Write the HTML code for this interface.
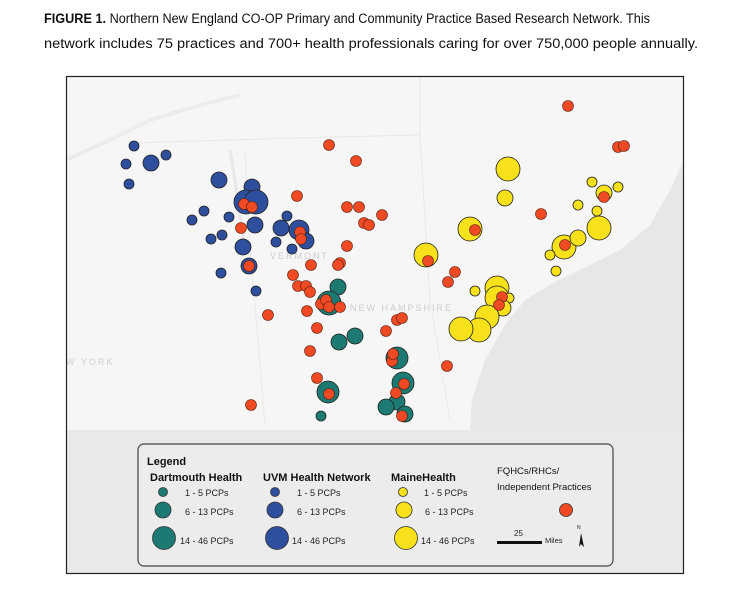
<!DOCTYPE html>
<html><head><meta charset="utf-8"><style>
body{margin:0;background:#fff;width:742px;height:594px;overflow:hidden}
svg{display:block;font-family:"Liberation Sans",Arial,sans-serif}
</style></head><body>
<svg width="742" height="594" viewBox="0 0 742 594">
<text x="44" y="23" font-size="13.5" fill="#111" textLength="606" lengthAdjust="spacingAndGlyphs"><tspan font-weight="bold">FIGURE 1.</tspan> Northern New England CO-OP Primary and Community Practice Based Research Network. This</text>
<text x="44" y="48" font-size="13.5" fill="#111" textLength="654" lengthAdjust="spacingAndGlyphs">network includes 75 practices and 700+ health professionals caring for over 750,000 people annually.</text>
<rect x="66" y="76" width="618" height="498" fill="#e9e9ea"/>
<rect x="66" y="76" width="618" height="354" fill="#f6f6f6"/>
<path d="M684 160 L670 190 L650 225 L620 250 L590 265 L555 282 L525 300 L505 325 L485 360 L472 400 L470 430 L684 430Z" fill="#e7e7e8"/>
<path d="M66 160 L110 140 L150 120 L200 105 L240 95" stroke="#ececec" stroke-width="4" fill="none"/>
<path d="M130 143 L330 137 L420 135 L420 76" stroke="#e8e8e8" stroke-width="1" fill="none"/>
<path d="M420 135 L430 300 L450 420" stroke="#e9e9e9" stroke-width="1" fill="none"/>
<path d="M245 150 L250 250 L258 340 L265 425" stroke="#e9e9e9" stroke-width="1" fill="none"/>
<path d="M230 150 L238 200 L245 250" stroke="#e8e8e8" stroke-width="3" fill="none"/>
<text x="270" y="259" font-size="9" fill="#cdcdcd" letter-spacing="2">VERMONT</text>
<text x="350" y="311" font-size="9" fill="#cdcdcd" letter-spacing="2">NEW HAMPSHIRE</text>
<text x="66" y="365" font-size="9" fill="#cdcdcd" letter-spacing="2">W YORK</text>
<g stroke="#222" stroke-width="0.8" fill="#2e4f9e">
<circle cx="134" cy="146" r="5"/><circle cx="151" cy="163" r="8"/><circle cx="166" cy="155" r="5"/><circle cx="126" cy="164" r="5"/><circle cx="129" cy="184" r="5"/><circle cx="219" cy="180" r="8"/><circle cx="252" cy="187" r="8"/><circle cx="246" cy="202" r="12"/><circle cx="256" cy="202" r="12"/><circle cx="255" cy="225" r="8"/><circle cx="204" cy="211" r="5"/><circle cx="192" cy="220" r="5"/><circle cx="229" cy="217" r="5"/><circle cx="211" cy="239" r="5"/><circle cx="222" cy="235" r="5"/><circle cx="243" cy="247" r="8"/><circle cx="249" cy="266" r="8"/><circle cx="221" cy="273" r="5"/><circle cx="256" cy="291" r="5"/><circle cx="287" cy="216" r="5"/><circle cx="281" cy="228" r="8"/><circle cx="299" cy="230" r="10"/><circle cx="306" cy="241" r="8"/><circle cx="276" cy="242" r="5"/><circle cx="292" cy="249" r="5"/>
</g>
<g stroke="#222" stroke-width="0.8" fill="#1c7a72">
<circle cx="338" cy="287" r="8"/><circle cx="329" cy="303" r="12"/><circle cx="339" cy="342" r="8"/><circle cx="355" cy="336" r="8"/><circle cx="397" cy="358" r="11"/><circle cx="403" cy="383" r="11"/><circle cx="397" cy="402" r="8"/><circle cx="386" cy="407" r="8"/><circle cx="405" cy="414" r="8"/><circle cx="328" cy="392" r="11"/><circle cx="321" cy="416" r="5"/>
</g>
<g stroke="#222" stroke-width="0.8" fill="#f7e11a">
<circle cx="508" cy="169" r="12"/><circle cx="505" cy="198" r="8"/><circle cx="592" cy="182" r="5"/><circle cx="618" cy="187" r="5"/><circle cx="604" cy="193" r="8"/><circle cx="578" cy="205" r="5"/><circle cx="597" cy="211" r="5"/><circle cx="599" cy="228" r="12"/><circle cx="470" cy="229" r="12"/><circle cx="426" cy="255" r="12"/><circle cx="564" cy="247" r="12"/><circle cx="578" cy="238" r="8"/><circle cx="550" cy="255" r="5"/><circle cx="556" cy="271" r="5"/><circle cx="475" cy="291" r="5"/><circle cx="497" cy="288" r="12"/><circle cx="497" cy="298" r="12"/><circle cx="509" cy="298" r="5"/><circle cx="503" cy="308" r="8"/><circle cx="487" cy="317" r="12"/><circle cx="479" cy="330" r="12"/><circle cx="461" cy="329" r="12"/>
</g>
<g stroke="#5a2010" stroke-width="0.6" fill="#f04a24">
<circle cx="329" cy="145" r="5.5"/><circle cx="356" cy="161" r="5.5"/><circle cx="568" cy="106" r="5.5"/><circle cx="618" cy="147" r="5.5"/><circle cx="624" cy="146" r="5.5"/><circle cx="297" cy="196" r="5.5"/><circle cx="347" cy="207" r="5.5"/><circle cx="359" cy="207" r="5.5"/><circle cx="382" cy="215" r="5.5"/><circle cx="364" cy="223" r="5.5"/><circle cx="369" cy="225" r="5.5"/><circle cx="244" cy="204" r="5.5"/><circle cx="252" cy="207" r="5.5"/><circle cx="241" cy="228" r="5.5"/><circle cx="300" cy="232" r="5.5"/><circle cx="301" cy="239" r="5.5"/><circle cx="347" cy="246" r="5.5"/><circle cx="249" cy="266" r="5.5"/><circle cx="311" cy="265" r="5.5"/><circle cx="340" cy="263" r="5.5"/><circle cx="338" cy="265" r="5.5"/><circle cx="293" cy="275" r="5.5"/><circle cx="298" cy="286" r="5.5"/><circle cx="306" cy="286" r="5.5"/><circle cx="310" cy="292" r="5.5"/><circle cx="321" cy="304" r="5.5"/><circle cx="326" cy="300" r="5.5"/><circle cx="329" cy="307" r="5.5"/><circle cx="340" cy="307" r="5.5"/><circle cx="307" cy="311" r="5.5"/><circle cx="268" cy="315" r="5.5"/><circle cx="317" cy="328" r="5.5"/><circle cx="310" cy="351" r="5.5"/><circle cx="386" cy="331" r="5.5"/><circle cx="397" cy="320" r="5.5"/><circle cx="402" cy="318" r="5.5"/><circle cx="392" cy="361" r="5.5"/><circle cx="393" cy="354" r="5.5"/><circle cx="404" cy="384" r="5.5"/><circle cx="396" cy="393" r="5.5"/><circle cx="402" cy="416" r="5.5"/><circle cx="329" cy="394" r="5.5"/><circle cx="317" cy="378" r="5.5"/><circle cx="251" cy="405" r="5.5"/><circle cx="447" cy="366" r="5.5"/><circle cx="428" cy="261" r="5.5"/><circle cx="475" cy="230" r="5.5"/><circle cx="455" cy="272" r="5.5"/><circle cx="448" cy="282" r="5.5"/><circle cx="541" cy="214" r="5.5"/><circle cx="604" cy="197" r="5.5"/><circle cx="565" cy="245" r="5.5"/><circle cx="502" cy="297" r="5.5"/><circle cx="499" cy="305" r="5.5"/>
</g>
<rect x="66.5" y="76.5" width="617" height="497" fill="none" stroke="#222" stroke-width="1.2"/>
<rect x="138" y="444" width="475" height="122" rx="6" fill="#ececed" stroke="#444" stroke-width="1.2"/>
<g font-weight="bold" fill="#111">
<text x="147" y="465" font-size="11">Legend</text>
<text x="150" y="481" font-size="11">Dartmouth Health</text>
<text x="263" y="481" font-size="11">UVM Health Network</text>
<text x="391" y="481" font-size="11">MaineHealth</text>
</g>
<text x="497" y="474" font-size="9.5" fill="#111">FQHCs/RHCs/</text>
<text x="497" y="490" font-size="9.5" fill="#111">Independent  Practices</text>
<g stroke="#333" stroke-width="0.8">
<circle cx="163" cy="492" r="4.5" fill="#1c7a72"/><circle cx="163" cy="510" r="8" fill="#1c7a72"/><circle cx="164" cy="538" r="11.5" fill="#1c7a72"/>
<circle cx="275" cy="492" r="4.5" fill="#2e4f9e"/><circle cx="275" cy="510" r="8" fill="#2e4f9e"/><circle cx="277" cy="538" r="11.5" fill="#2e4f9e"/>
<circle cx="403" cy="492" r="4.5" fill="#f7e11a"/><circle cx="404" cy="510" r="8" fill="#f7e11a"/><circle cx="406" cy="538" r="11.5" fill="#f7e11a"/>
<circle cx="566" cy="510" r="6.5" fill="#f04a24"/>
</g>
<g font-size="9" fill="#222">
<text x="185" y="496">1 -   5 PCPs</text><text x="185" y="515">6 - 13 PCPs</text><text x="180" y="544">14 - 46 PCPs</text>
<text x="297" y="496">1 -   5 PCPs</text><text x="297" y="515">6 - 13 PCPs</text><text x="292" y="544">14 - 46 PCPs</text>
<text x="424" y="496">1 -   5 PCPs</text><text x="425" y="515">6 - 13 PCPs</text><text x="421" y="544">14 - 46 PCPs</text>
<text x="514" y="536" font-size="8">25</text><text x="545" y="543" font-size="7.5">Miles</text>
<text x="577" y="529" font-size="5">N</text>
</g>
<rect x="497" y="541" width="45" height="3" fill="#111"/>
<path d="M579 547 L581 533 L584 547 L581 544Z" fill="#111"/>
</svg>
</body></html>
